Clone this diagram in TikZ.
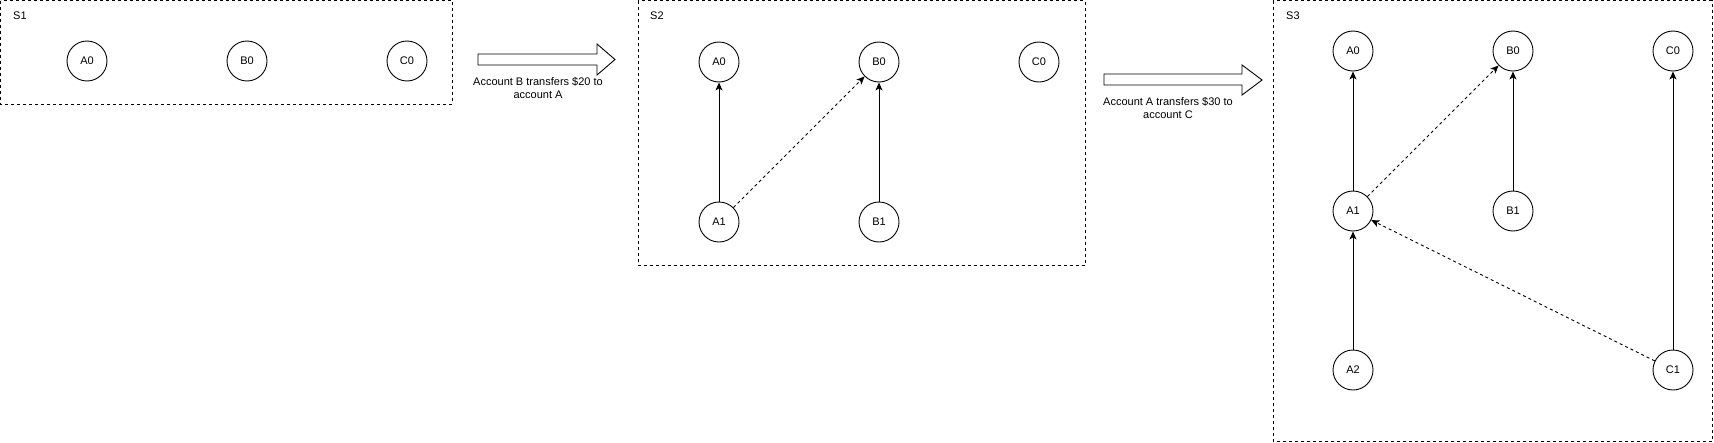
\documentclass[tikz,border=0pt]{standalone}
\usepackage{fontspec}
\setmainfont{Liberation Sans}
\usetikzlibrary{arrows.meta}
\begin{document}
\begin{tikzpicture}[x=1pt,y=-1pt,
  st/.style={circle,draw,line width=0.9pt,minimum size=40pt,inner sep=0pt,font=\fontsize{11}{13}\selectfont},
  sbox/.style={draw,line width=0.9pt,dash pattern=on 3pt off 3pt},
  lbl/.style={anchor=west,inner sep=0pt,font=\fontsize{11}{13}\selectfont},
  solidarr/.style={draw,line width=0.9pt,-{Stealth[length=8pt,width=7pt,inset=2pt]}},
  dasharr/.style={solidarr,dash pattern=on 3pt off 3pt},
  blockarr/.style={draw,line width=0.9pt,fill=white,line join=miter},
  caption/.style={align=center,inner sep=0pt,font=\fontsize{11}{12.5}\selectfont}]
\useasboundingbox (0,0) rectangle (1714,442);
% frames
\draw[sbox] (0.5,0.5) rectangle (452,104);
\draw[sbox] (638,0.5) rectangle (1085,265);
\draw[sbox] (1273,0.5) rectangle (1712,441);
\node[lbl] (s1) at (13,16) {S1};
\node[lbl] (s2) at (650,16) {S2};
\node[lbl] (s3) at (1286,16) {S3};
% S1
\node[st] (a0s1) at (87,61) {A0};
\node[st] (b0s1) at (247,61) {B0};
\node[st] (c0s1) at (407,61) {C0};
% transition 1
\draw[blockarr] (478,54) -- (597,54) -- (597,44) -- (615,59.5) -- (597,75) -- (597,65) -- (478,65) -- cycle;
\node[caption] (t1) at (538,88) {Account B transfers \$20 to\\account A};
% S2
\node[st] (a0s2) at (719,62) {A0};
\node[st] (b0s2) at (879,62) {B0};
\node[st] (c0s2) at (1039,62) {C0};
\node[st] (a1s2) at (719,222) {A1};
\node[st] (b1s2) at (879,222) {B1};
\draw[solidarr] (a1s2) -- (a0s2);
\draw[solidarr] (b1s2) -- (b0s2);
\draw[dasharr] (a1s2) -- (b0s2);
% transition 2
\draw[blockarr] (1104,74) -- (1242,74) -- (1242,65) -- (1262,80) -- (1242,95) -- (1242,85) -- (1104,85) -- cycle;
\node[caption] (t2) at (1168,108) {Account A transfers \$30 to\\account C};
% S3
\node[st] (a0s3) at (1353,51) {A0};
\node[st] (b0s3) at (1513,51) {B0};
\node[st] (c0s3) at (1673,51) {C0};
\node[st] (a1s3) at (1353,211) {A1};
\node[st] (b1s3) at (1513,211) {B1};
\node[st] (a2s3) at (1353,370) {A2};
\node[st] (c1s3) at (1673,370) {C1};
\draw[solidarr] (a1s3) -- (a0s3);
\draw[solidarr] (b1s3) -- (b0s3);
\draw[solidarr] (a2s3) -- (a1s3);
\draw[solidarr] (c1s3) -- (c0s3);
\draw[dasharr] (a1s3) -- (b0s3);
\draw[dasharr] (c1s3) -- (a1s3);
\end{tikzpicture}
\end{document}
